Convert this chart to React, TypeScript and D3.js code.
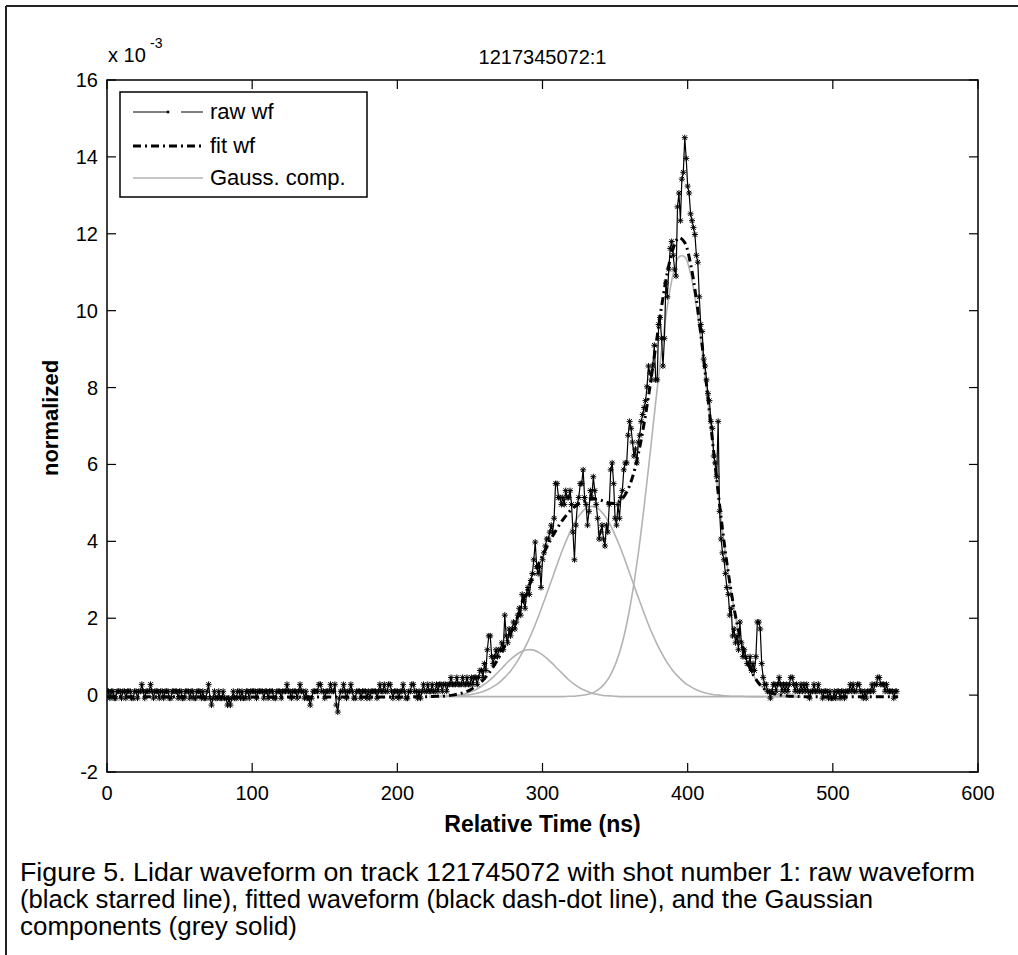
import React from "react";
import * as d3 from "d3";

// ---------- DATA ----------
const chartTitle = "1217345072:1";
const xLabel = "Relative Time (ns)";
const yLabel = "normalized";
const xTicks = [0, 100, 200, 300, 400, 500, 600];
const yTicks = [-2, 0, 2, 4, 6, 8, 10, 12, 14, 16];
const legendLabels = ["raw wf", "fit wf", "Gauss. comp."];
const captionLines = [
  "Figure 5. Lidar waveform on track 121745072 with shot number 1: raw waveform",
  "(black starred line), fitted waveform (black dash-dot line), and the Gaussian",
  "components (grey solid)",
];

// raw waveform, one sample per ns starting at 0 ns (values x 10^-3)
const rawStartNs = 0;
const rawStepNs = 1;
const rawWf = [
  0.10,0.10,-0.08,0.10,0.10,-0.08,-0.08,0.10,0.10,0.10,
  -0.08,0.10,0.10,-0.08,0.10,0.10,0.10,-0.08,-0.08,0.10,
  0.10,-0.08,0.10,0.10,0.28,0.10,-0.08,0.10,0.10,0.10,
  0.28,0.10,-0.08,0.10,0.10,0.10,-0.08,0.10,0.10,-0.08,
  0.10,0.10,0.10,-0.08,-0.08,0.10,0.10,0.10,0.10,-0.08,
  0.10,0.10,-0.08,-0.08,0.10,0.10,0.10,-0.08,0.10,0.10,
  -0.08,-0.08,0.10,0.10,0.10,-0.08,0.10,-0.08,-0.08,0.10,
  0.28,-0.08,-0.26,-0.08,0.10,-0.08,-0.08,0.10,-0.08,-0.08,
  0.10,-0.08,-0.08,-0.26,-0.08,-0.26,-0.08,0.10,-0.08,-0.08,
  0.10,0.10,-0.08,0.10,-0.08,-0.08,0.10,0.10,-0.08,0.10,
  0.10,0.10,0.10,-0.08,0.10,0.10,0.10,0.10,-0.08,0.10,
  0.10,-0.08,0.10,0.10,0.10,-0.08,-0.08,0.10,0.10,0.10,
  -0.08,0.10,0.10,0.10,0.28,0.10,0.10,-0.08,0.10,0.10,
  0.10,-0.08,0.10,0.28,0.10,0.10,-0.08,0.10,-0.08,-0.08,
  -0.26,-0.08,0.10,0.10,0.10,0.10,0.28,0.28,0.10,0.10,
  -0.08,0.10,0.10,0.10,0.28,0.10,0.10,0.28,-0.26,-0.44,
  -0.08,0.10,0.10,0.28,0.10,-0.08,0.10,0.10,0.28,0.10,
  -0.08,-0.08,0.10,0.10,0.10,-0.08,0.10,0.10,0.10,-0.08,
  0.10,-0.08,0.10,0.10,0.10,0.10,-0.08,0.10,0.28,0.10,
  0.10,0.28,0.10,0.10,0.28,0.28,0.10,-0.08,0.10,0.10,
  0.10,-0.08,0.10,0.10,0.28,0.10,-0.08,-0.08,0.10,0.10,
  0.28,0.28,0.10,0.10,-0.08,0.10,-0.08,0.10,0.28,0.10,
  0.10,0.28,0.10,0.10,0.28,0.10,0.10,0.28,0.10,0.28,
  0.28,0.10,0.28,0.28,0.10,0.28,0.28,0.46,0.28,0.28,
  0.28,0.46,0.28,0.28,0.28,0.46,0.28,0.28,0.46,0.28,
  0.28,0.46,0.28,0.46,0.46,0.28,0.46,0.64,0.64,0.46,
  0.82,0.64,1.18,1.54,1.54,1.00,0.82,1.00,1.18,1.00,
  1.18,1.18,1.36,1.18,2.08,1.54,1.36,1.72,1.54,1.72,
  1.90,1.72,1.90,2.08,2.26,2.08,2.62,2.44,2.26,2.62,
  2.80,2.62,2.98,3.16,3.52,3.98,3.34,3.16,3.34,2.80,
  3.52,3.70,3.88,4.06,4.06,4.24,4.42,4.24,4.60,5.50,
  5.50,5.14,5.14,4.96,5.14,4.96,5.32,5.14,5.14,5.32,
  4.96,4.24,3.52,4.42,4.96,5.14,5.50,5.50,5.86,5.14,
  4.96,4.42,4.78,5.32,5.14,5.68,5.32,4.96,4.60,4.06,
  4.24,4.42,4.06,3.88,4.42,4.24,4.96,5.86,6.04,5.50,
  4.60,4.42,4.96,4.60,5.14,5.32,5.86,6.04,6.04,6.76,
  7.12,6.94,6.58,6.22,6.40,6.04,6.58,6.76,7.12,7.30,
  7.48,7.66,8.02,8.56,8.38,8.20,8.56,9.10,8.20,8.20,
  9.64,9.82,9.28,8.56,9.28,10.72,10.36,11.08,11.62,11.80,
  11.44,11.08,10.90,12.70,13.06,12.34,13.42,13.60,14.50,13.96,
  13.24,13.06,12.52,12.34,12.16,11.98,11.44,11.26,10.36,9.64,
  9.46,8.74,8.56,8.20,7.84,7.66,7.12,6.94,6.22,6.04,
  5.68,7.12,4.78,4.06,3.70,3.52,3.16,2.80,2.62,2.08,
  2.26,1.54,1.72,1.36,1.54,1.18,1.90,1.36,1.00,1.18,
  1.00,0.82,0.82,1.00,0.64,0.82,0.64,1.00,1.90,1.90,
  1.72,0.82,0.46,0.28,0.28,0.10,0.10,-0.08,0.10,0.28,
  0.28,0.10,0.28,0.46,0.28,0.10,0.28,0.10,0.28,0.10,
  0.28,0.46,0.46,0.28,0.10,0.28,0.10,0.10,0.28,0.10,
  0.28,0.10,0.28,0.10,-0.08,0.10,0.10,0.28,0.10,0.10,
  0.28,0.10,0.10,-0.08,0.10,0.10,0.10,-0.08,0.10,-0.08,
  -0.08,0.10,-0.08,0.10,0.10,-0.08,0.10,0.10,-0.08,0.10,
  0.10,0.10,0.28,0.10,0.28,0.10,0.10,0.28,0.28,0.10,
  0.10,-0.08,0.10,-0.08,0.10,0.10,0.10,0.28,0.10,0.28,
  0.28,0.46,0.46,0.28,0.28,0.28,0.10,0.28,0.10,0.10,
  0.10,0.10,-0.08,0.10,0.10,
];

// Gaussian components sampled on a common time grid (ns)
const gaussTimes = [
  222,226,230,234,238,242,246,250,254,258,262,266,270,274,278,282,286,290,294,298,
  302,306,310,314,318,322,326,330,334,338,342,346,350,354,358,362,366,370,374,378,
  382,386,390,394,398,402,406,410,414,418,422,426,430,434,438,442,446,450,454,458,
  462,466,470,474,478,
];
const gaussSmall = [
  -0.04,-0.04,-0.03,-0.03,-0.02,0.00,0.03,0.08,0.14,0.23,0.34,0.47,0.62,0.78,0.93,1.05,1.14,1.18,1.17,1.10,
  0.99,0.85,0.70,0.55,0.40,0.28,0.18,0.11,0.05,0.02,-0.01,-0.02,-0.03,-0.04,-0.04,-0.04,-0.04,-0.04,-0.04,-0.04,
  -0.04,-0.04,-0.04,-0.04,-0.04,-0.04,-0.04,-0.04,-0.04,-0.04,-0.04,-0.04,-0.04,-0.04,-0.04,-0.04,-0.04,-0.04,-0.04,-0.04,
  -0.04,-0.04,-0.04,-0.04,-0.04,
];
const gaussMid = [
  -0.04,-0.04,-0.03,-0.03,-0.03,-0.02,0.00,0.01,0.04,0.08,0.14,0.22,0.32,0.46,0.63,0.84,1.10,1.40,1.74,2.13,
  2.54,2.96,3.39,3.80,4.16,4.48,4.71,4.86,4.91,4.86,4.71,4.48,4.16,3.80,3.39,2.96,2.54,2.13,1.74,1.40,
  1.10,0.84,0.63,0.46,0.32,0.22,0.14,0.08,0.04,0.01,0.00,-0.02,-0.03,-0.03,-0.03,-0.04,-0.04,-0.04,-0.04,-0.04,
  -0.04,-0.04,-0.04,-0.04,-0.04,
];
const gaussBig = [
  -0.04,-0.04,-0.04,-0.04,-0.04,-0.04,-0.04,-0.04,-0.04,-0.04,-0.04,-0.04,-0.04,-0.04,-0.04,-0.04,-0.04,-0.04,-0.04,-0.04,
  -0.04,-0.04,-0.04,-0.04,-0.03,-0.03,-0.01,0.01,0.05,0.13,0.26,0.47,0.78,1.23,1.85,2.67,3.69,4.90,6.24,7.63,
  8.96,10.11,10.95,11.40,11.40,10.95,10.11,8.96,7.63,6.24,4.90,3.69,2.67,1.85,1.23,0.78,0.47,0.26,0.13,0.05,
  0.01,-0.01,-0.03,-0.03,-0.04,
];

// fitted waveform
const fitTimes = [
  0,
  222,226,230,234,238,242,246,250,254,258,262,266,270,274,278,282,286,290,294,298,
  302,306,310,314,318,322,326,330,334,338,342,346,350,354,358,362,366,370,374,378,
  382,386,390,394,398,402,406,410,414,418,422,426,430,434,438,442,446,450,454,458,
  462,466,470,474,478,
  545,
];
const fitWf = [
  -0.04,
  -0.04,-0.03,-0.03,-0.02,0.00,0.03,0.07,0.13,0.23,0.35,0.52,0.73,0.99,1.28,1.60,1.93,2.40,2.78,3.13,3.47,
  3.78,4.07,4.33,4.56,4.75,4.90,5.00,5.06,5.10,5.09,5.05,5.00,4.99,5.07,5.28,5.67,6.27,7.07,8.02,9.07,
  10.10,10.99,11.62,11.90,11.77,11.21,10.29,9.09,7.71,6.30,4.94,3.72,2.69,1.86,1.23,0.78,0.47,0.26,0.13,0.05,
  0.01,-0.01,-0.03,-0.03,-0.04,
  -0.04,
];

// ---------- RENDER ----------
const FONT = "'Liberation Sans', Arial, Helvetica, sans-serif";

function starPath(cx: number, cy: number, s: number) {
  const d = s * 0.75;
  return `M${cx - s},${cy}h${2 * s}M${cx},${cy - s}v${2 * s}M${cx - d},${cy - d}l${2 * d},${2 * d}M${cx - d},${cy + d}l${2 * d},${-2 * d}`;
}

export default function App() {
  const W = 1018;
  const H = 955;
  const left = 107, right = 978, top = 80, bottom = 772;
  const x = d3.scaleLinear().domain([0, 600]).range([left, right]);
  const y = d3.scaleLinear().domain([-2, 16]).range([bottom, top]);
  const tickLen = 9;

  const rawPts: [number, number][] = rawWf.map((v, i) => [rawStartNs + i * rawStepNs, v]);
  const rawLine = d3.line<[number, number]>().x((d) => x(d[0])).y((d) => y(d[1]))(rawPts) || "";
  const rawMarkers = rawPts.map((d) => starPath(x(d[0]), y(d[1]), 3)).join("");

  const smoothLine = d3
    .line<[number, number]>()
    .x((d) => x(d[0]))
    .y((d) => y(d[1]))
    .curve(d3.curveCatmullRom.alpha(0.5));

  const gaussPaths = [gaussSmall, gaussMid, gaussBig].map(
    (vals) => smoothLine(gaussTimes.map((t, i) => [t, vals[i]] as [number, number])) || ""
  );
  const fitPath = smoothLine(fitTimes.map((t, i) => [t, fitWf[i]] as [number, number])) || "";

  const fitDash = "8,4,2,4";

  return (
    <svg
      width={W}
      height={H}
      viewBox={`0 0 ${W} ${H}`}
      style={{ position: "absolute", left: 0, top: 0, background: "#fff" }}
      fontFamily={FONT}
    >
      <rect x={0} y={0} width={W} height={H} fill="#fff" />
      {/* outer frame */}
      <line x1={6} y1={6} x2={W} y2={6} stroke="#222" strokeWidth={2} />
      <line x1={6} y1={6} x2={6} y2={H} stroke="#222" strokeWidth={2} />

      <defs>
        <clipPath id="plotclip">
          <rect x={left} y={top} width={right - left} height={bottom - top} />
        </clipPath>
      </defs>

      {/* data */}
      <g clipPath="url(#plotclip)">
        {gaussPaths.map((p, i) => (
          <path key={i} d={p} fill="none" stroke="#b3b3b3" strokeWidth={1.6} />
        ))}
        <path d={rawLine} fill="none" stroke="#000" strokeWidth={1.2} />
        <path d={rawMarkers} fill="none" stroke="#000" strokeWidth={1} />
        <path d={fitPath} fill="none" stroke="#000" strokeWidth={3} strokeDasharray={fitDash} />
      </g>

      {/* axes box */}
      <rect x={left} y={top} width={right - left} height={bottom - top} fill="none" stroke="#000" strokeWidth={1.5} />
      {xTicks.map((t) => (
        <g key={"xt" + t}>
          <line x1={x(t)} x2={x(t)} y1={bottom} y2={bottom - tickLen} stroke="#000" strokeWidth={1.2} />
          <line x1={x(t)} x2={x(t)} y1={top} y2={top + tickLen} stroke="#000" strokeWidth={1.2} />
          <text x={x(t)} y={bottom + 28} textAnchor="middle" fontSize={20} fill="#000">
            {t}
          </text>
        </g>
      ))}
      {yTicks.map((t) => (
        <g key={"yt" + t}>
          <line x1={left} x2={left + tickLen} y1={y(t)} y2={y(t)} stroke="#000" strokeWidth={1.2} />
          <line x1={right} x2={right - tickLen} y1={y(t)} y2={y(t)} stroke="#000" strokeWidth={1.2} />
          <text x={left - 9} y={y(t) + 7} textAnchor="end" fontSize={20} fill="#000">
            {t}
          </text>
        </g>
      ))}

      {/* exponent */}
      <text x={108} y={62} fontSize={20} fill="#000">
        x 10
      </text>
      <text x={150} y={48} fontSize={14} fill="#000">
        -3
      </text>

      {/* title */}
      <text x={(left + right) / 2} y={64} textAnchor="middle" fontSize={20} fill="#000">
        {chartTitle}
      </text>

      {/* axis labels */}
      <text x={(left + right) / 2} y={832} textAnchor="middle" fontSize={23} fontWeight="bold" fill="#000">
        {xLabel}
      </text>
      <text
        transform={`translate(58, 418) rotate(-90)`}
        textAnchor="middle"
        fontSize={22}
        fontWeight="bold"
        fill="#000"
      >
        {yLabel}
      </text>

      {/* legend */}
      <rect x={120} y={92} width={247} height={105} fill="#fff" stroke="#000" strokeWidth={1.5} />
      <line x1={133} x2={167} y1={112} y2={112} stroke="#000" strokeWidth={1} />
      <line x1={181} x2={203} y1={112} y2={112} stroke="#000" strokeWidth={1} />
      <path d={starPath(168, 112, 1.5)} stroke="#000" strokeWidth={1} fill="none" />
      <text x={210} y={119} fontSize={22} fill="#000">{legendLabels[0]}</text>
      <line x1={133} x2={203} y1={146} y2={146} stroke="#000" strokeWidth={3} strokeDasharray={fitDash} />
      <text x={210} y={153} fontSize={22} fill="#000">{legendLabels[1]}</text>
      <line x1={133} x2={203} y1={178} y2={178} stroke="#b3b3b3" strokeWidth={1.6} />
      <text x={210} y={185} fontSize={22} fill="#000">{legendLabels[2]}</text>

      {/* caption */}
      <text x={20} y={881} fontSize={25} fill="#000" textLength={955} lengthAdjust="spacingAndGlyphs">
        {captionLines[0]}
      </text>
      <text x={20} y={908} fontSize={25} fill="#000" textLength={853} lengthAdjust="spacingAndGlyphs">
        {captionLines[1]}
      </text>
      <text x={20} y={935} fontSize={25} fill="#000" textLength={277} lengthAdjust="spacingAndGlyphs">
        {captionLines[2]}
      </text>
    </svg>
  );
}
